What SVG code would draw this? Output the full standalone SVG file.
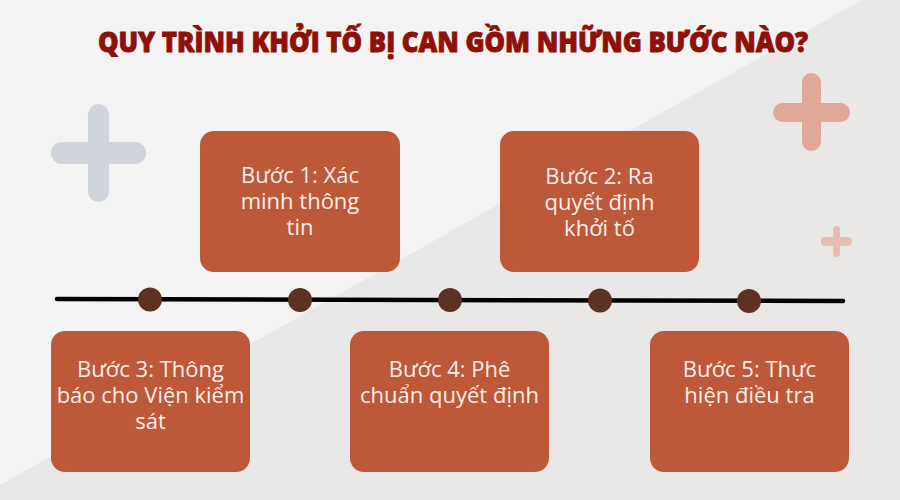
<svg xmlns="http://www.w3.org/2000/svg" width="900" height="500" viewBox="0 0 900 500">
  <style>
    .title { font-family: "Open Sans", "Liberation Sans", sans-serif; font-weight: 800; font-size: 28px; fill: #8e1006; stroke: #8e1006; stroke-width: 0.9px; }
    .box { fill: #bd5838; }
    .label { font-family: "Open Sans", "Noto Sans", "Liberation Sans", sans-serif; font-size: 22px; fill: #fbefe9; text-anchor: middle; }
    .dot { fill: #5c3323; }
  </style>
  <rect x="0" y="0" width="900" height="500" fill="#f3f3f3"/>
  <polygon points="862,0 900,0 900,500 0,500 0,485" fill="#e9e8e6"/>

  <g id="decor">
    <g fill="#d0d5db">
      <rect x="88" y="104" width="21" height="98" rx="10.5"/>
      <rect x="51" y="142" width="95" height="22" rx="11"/>
    </g>
    <g fill="#e2a897">
      <rect x="802" y="73" width="19" height="78" rx="9.5"/>
      <rect x="773" y="103" width="77" height="19" rx="9.5"/>
    </g>
    <g fill="#e6bdb0">
      <rect x="833" y="226" width="7" height="31" rx="3.5"/>
      <rect x="821" y="237" width="31" height="9" rx="4"/>
    </g>
  </g>

  <text class="title" x="98" y="52" textLength="710" lengthAdjust="spacingAndGlyphs">QUY TRÌNH KHỞI TỐ BỊ CAN GỒM NHỮNG BƯỚC NÀO?</text>

  <g id="connectors">
    <line x1="57" y1="299" x2="843" y2="301" stroke="#000" stroke-width="4.5" stroke-linecap="round"/>
  </g>

  <g id="dots">
    <circle class="dot" cx="150" cy="299.5" r="12"/>
    <circle class="dot" cx="300" cy="300" r="12"/>
    <circle class="dot" cx="450" cy="300" r="12"/>
    <circle class="dot" cx="600" cy="300.5" r="12"/>
    <circle class="dot" cx="749" cy="301" r="12"/>
  </g>

  <g id="step1">
    <rect class="box" x="200" y="131" width="200" height="141" rx="14"/>
    <text class="label" x="300" y="183"><tspan x="300">Bước 1: Xác</tspan><tspan x="300" dy="26">minh thông</tspan><tspan x="300" dy="26">tin</tspan></text>
  </g>
  <g id="step2">
    <rect class="box" x="500" y="131" width="199" height="141" rx="14"/>
    <text class="label" x="599.5" y="184"><tspan x="599.5">Bước 2: Ra</tspan><tspan x="599.5" dy="26">quyết định</tspan><tspan x="599.5" dy="26">khởi tố</tspan></text>
  </g>
  <g id="step3">
    <rect class="box" x="51" y="331" width="199" height="141" rx="14"/>
    <text class="label" x="150.5" y="377"><tspan x="150.5">Bước 3: Thông</tspan><tspan x="150.5" dy="26">báo cho Viện kiểm</tspan><tspan x="150.5" dy="26">sát</tspan></text>
  </g>
  <g id="step4">
    <rect class="box" x="350" y="331" width="199" height="141" rx="14"/>
    <text class="label" x="449.5" y="377"><tspan x="449.5">Bước 4: Phê</tspan><tspan x="449.5" dy="26">chuẩn quyết định</tspan></text>
  </g>
  <g id="step5">
    <rect class="box" x="650" y="331" width="199" height="141" rx="14"/>
    <text class="label" x="749.5" y="377"><tspan x="749.5">Bước 5: Thực</tspan><tspan x="749.5" dy="26">hiện điều tra</tspan></text>
  </g>
</svg>
